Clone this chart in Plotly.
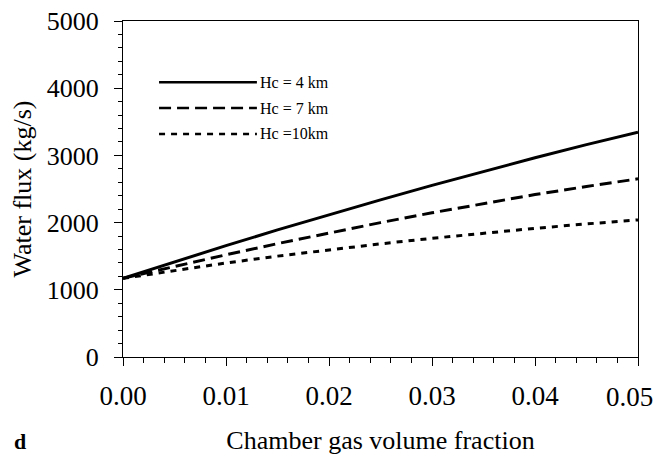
import plotly.graph_objects as go

gas_fraction = [0.0, 0.005, 0.01, 0.015, 0.02, 0.025, 0.03, 0.035, 0.04, 0.045, 0.05]
flux_hc4 = [1171, 1417, 1657, 1891, 2118, 2339, 2554, 2763, 2965, 3160, 3346]
flux_hc7 = [1171, 1349, 1521, 1687, 1847, 2000, 2146, 2285, 2417, 2538, 2651]
flux_hc10 = [1171, 1289, 1399, 1501, 1596, 1684, 1766, 1843, 1915, 1980, 2040]
series_names = ["Hc = 4 km", "Hc = 7 km", "Hc =10km"]
x_ticks = [0.0, 0.01, 0.02, 0.03, 0.04, 0.05]
y_ticks = [0, 1000, 2000, 3000, 4000, 5000]

FONT = "Liberation Serif"
dashes = ["solid", "12px,6px", "6px,6px"]
series = [flux_hc4, flux_hc7, flux_hc10]

fig = go.Figure()
for name, ys, d in zip(series_names, series, dashes):
    fig.add_trace(go.Scatter(x=gas_fraction, y=ys, mode="lines", name=name,
                             line=dict(color="black", width=3, dash=d),
                             showlegend=False))

# manual legend (line samples + labels) in paper coordinates
leg_y = [0.818, 0.741, 0.664]
for name, d, yy in zip(series_names, dashes, leg_y):
    fig.add_shape(type="line", xref="paper", yref="paper", x0=0.07, x1=0.26,
                  y0=yy, y1=yy, line=dict(color="black", width=2.5, dash=d))
    fig.add_annotation(xref="paper", yref="paper", x=0.262, y=yy, text=name,
                       showarrow=False, xanchor="left", yanchor="middle",
                       font=dict(family=FONT, size=16, color="black"))

fig.add_annotation(xref="paper", yref="paper", x=-0.2, y=-0.25, text="<b>d</b>",
                   showarrow=False, xanchor="center", yanchor="middle",
                   font=dict(family=FONT, size=22, color="black"))

# x tick labels; the last one is placed as an annotation so it stays inside the page
tick_text = [f"{v:.2f}" for v in x_ticks]
fig.add_annotation(xref="x", yref="paper", x=x_ticks[-1], y=0, text=tick_text[-1],
                   showarrow=False, xanchor="right", yanchor="middle",
                   xshift=17, yshift=-40, font=dict(family=FONT, size=27, color="black"))
tick_text_axis = tick_text[:-1] + [""]

fig.update_layout(
    width=663, height=447,
    margin=dict(l=115, r=33, t=13, b=98),
    paper_bgcolor="white", plot_bgcolor="white",
    font=dict(family=FONT, size=26, color="black"),
)
fig.update_xaxes(range=[0, 0.05], tickvals=x_ticks, ticktext=tick_text_axis, automargin=False,
                 ticklabeloverflow="allow", tickfont=dict(size=27),
                 showgrid=False, zeroline=False, showline=True, linecolor="black",
                 linewidth=1, mirror=True, ticks="outside", ticklen=8, tickcolor="black",
                 ticklabelstandoff=7,
                 minor=dict(dtick=0.002, ticks="outside", ticklen=5, tickcolor="black"),
                 title=dict(text="Chamber gas volume fraction", standoff=24,
                            font=dict(family=FONT, size=26)))
fig.update_yaxes(range=[0, 5000], tickvals=y_ticks, automargin=False,
                 ticklabeloverflow="allow",
                 showgrid=False, zeroline=False, showline=True, linecolor="black",
                 linewidth=1, mirror=True, ticks="outside", ticklen=8, tickcolor="black",
                 ticklabelstandoff=10,
                 minor=dict(dtick=200, ticks="outside", ticklen=4, tickcolor="black"),
                 title=dict(text="Water flux (kg/s)", standoff=21,
                            font=dict(family=FONT, size=26)))

fig.write_html("out.html")
